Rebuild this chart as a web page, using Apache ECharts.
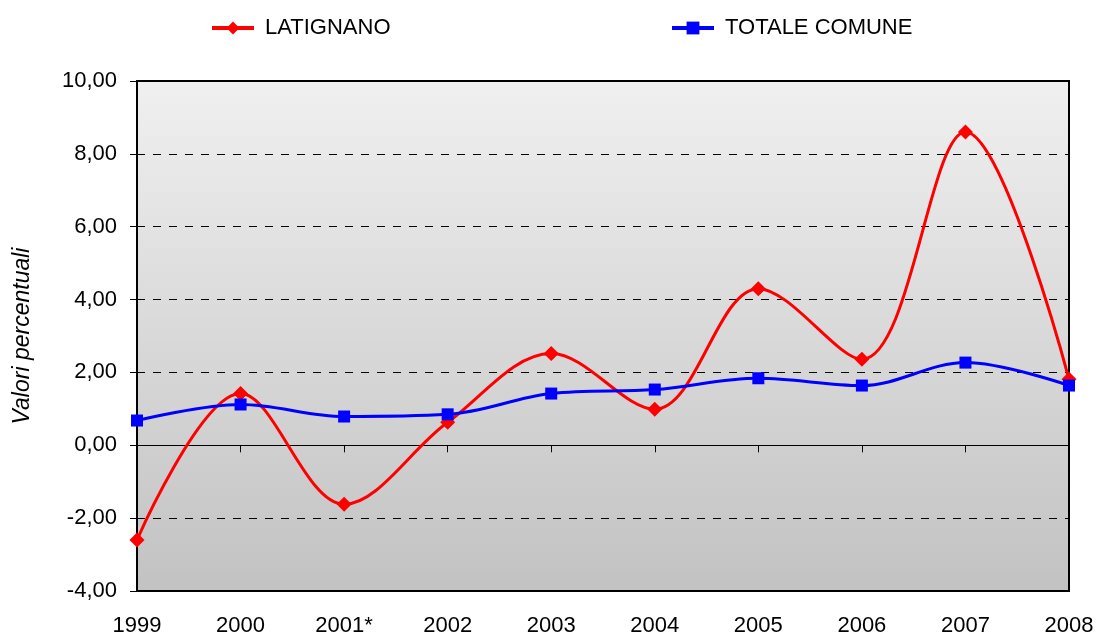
<!DOCTYPE html>
<html>
<head>
<meta charset="utf-8">
<script src="https://cdn.jsdelivr.net/npm/echarts@6/dist/echarts.min.js"></script>
<style>
  html, body { margin: 0; padding: 0; background: #fff; }
  #chart { width: 1097px; height: 637px; }
</style>
</head>
<body>
<div id="chart"></div>
<script>
const YEARS = ["1999", "2000", "2001*", "2002", "2003", "2004", "2005", "2006", "2007", "2008"];
const LATIGNANO = [-2.6, 1.42, -1.62, 0.63, 2.52, 0.99, 4.3, 2.36, 8.6, 1.81];
const TOTALE_COMUNE = [0.68, 1.12, 0.79, 0.85, 1.42, 1.53, 1.84, 1.64, 2.27, 1.64];

const FONT = "Liberation Sans, Arial, sans-serif";
const chart = echarts.init(document.getElementById("chart"));

const fmt = (v) => v.toFixed(2).replace(".", ",");

const legendText = { color: "#000", fontSize: 22, fontFamily: FONT, padding: [0, 0, 0, 6] };

chart.setOption({
  animation: false,
  textStyle: { fontFamily: FONT },
  legend: [
    {
      data: ["LATIGNANO"],
      left: 205, top: 12,
      itemWidth: 42, itemHeight: 16,
      lineStyle: { width: 4 },
      textStyle: legendText,
    },
    {
      data: ["TOTALE COMUNE"],
      left: 665, top: 12,
      itemWidth: 42, itemHeight: 16,
      lineStyle: { width: 4 },
      textStyle: legendText,
    },
  ],
  grid: {
    left: 137, right: 28, top: 81, bottom: 45,
    show: true,
    borderColor: "#000",
    borderWidth: 2,
    backgroundColor: new echarts.graphic.LinearGradient(0, 0, 0, 1, [
      { offset: 0, color: "#f0f0f0" },
      { offset: 1, color: "#c2c2c2" },
    ]),
  },
  xAxis: [
    {
      type: "category",
      data: YEARS,
      boundaryGap: false,
      axisLine: { onZero: true, lineStyle: { color: "#000", width: 1 } },
      axisTick: { show: true, length: 7, lineStyle: { color: "#000" } },
      axisLabel: { show: false },
      splitLine: { show: false },
    },
    {
      type: "category",
      data: YEARS,
      boundaryGap: false,
      position: "bottom",
      axisLine: { show: false, onZero: false },
      axisTick: { show: false },
      axisLabel: { color: "#000", fontSize: 22, margin: 24, fontFamily: FONT },
    },
  ],
  yAxis: {
    type: "value",
    min: -4, max: 10, interval: 2,
    name: "Valori percentuali",
    nameLocation: "middle",
    nameGap: 103,
    nameTextStyle: { color: "#000", fontSize: 23, fontStyle: "italic", fontFamily: FONT },
    axisLine: { show: true, lineStyle: { color: "#000", width: 2 } },
    axisTick: { show: true, length: 7, lineStyle: { color: "#000" } },
    axisLabel: { color: "#000", fontSize: 22, margin: 20, formatter: fmt, fontFamily: FONT },
    splitLine: { show: true, lineStyle: { color: "#000", type: [8, 8], width: 1 } },
  },
  series: [
    {
      name: "LATIGNANO",
      type: "line",
      data: LATIGNANO,
      smooth: 0.35,
      symbol: "diamond",
      symbolSize: 15,
      itemStyle: { color: "#ff0000" },
      lineStyle: { color: "#ff0000", width: 3 },
      z: 3,
    },
    {
      name: "TOTALE COMUNE",
      type: "line",
      data: TOTALE_COMUNE,
      smooth: 0.35,
      symbol: "rect",
      symbolSize: 12,
      itemStyle: { color: "#0000ff" },
      lineStyle: { color: "#0000ff", width: 3 },
      z: 4,
    },
  ],
});
</script>
</body>
</html>
